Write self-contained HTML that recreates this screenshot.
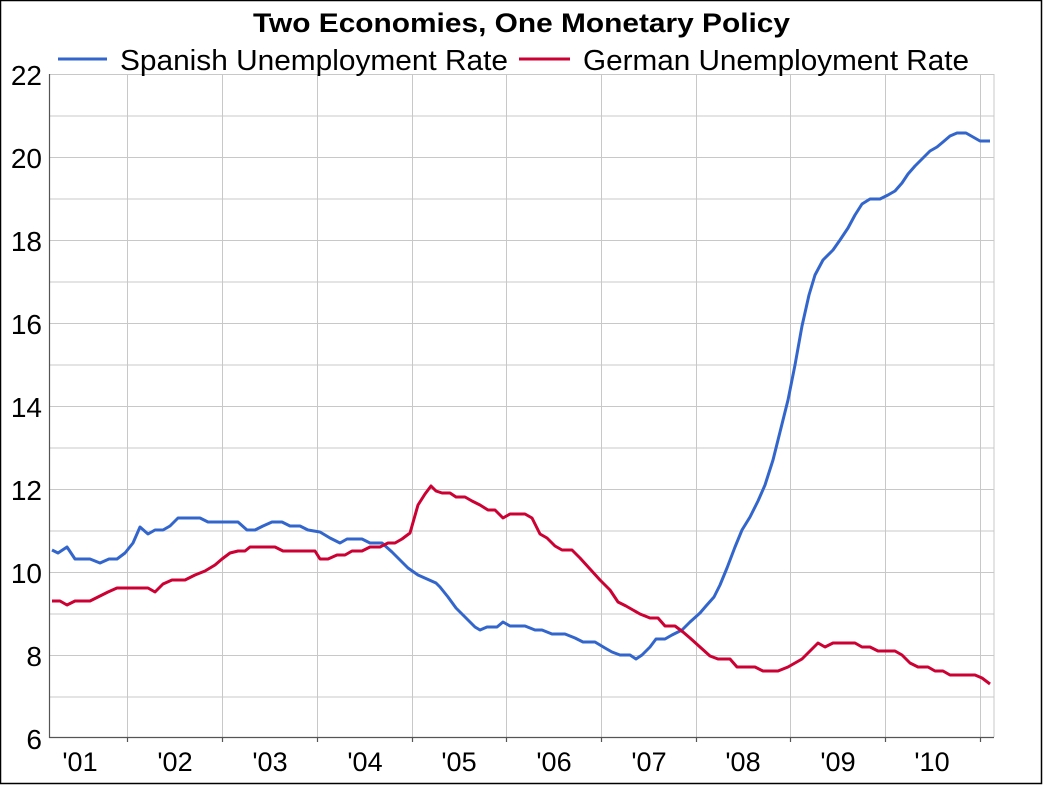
<!DOCTYPE html><html><head><style>body{margin:0;background:#fff}svg{display:block}</style></head><body>
<svg width="1043" height="785" xmlns="http://www.w3.org/2000/svg" font-family="Liberation Sans, Arial, sans-serif">
<rect x="0.5" y="0.5" width="1041" height="783" fill="#fff" stroke="#000" stroke-width="1.5"/>
<g stroke="#c8c8c8" stroke-width="1">
<line x1="49" x2="994" y1="74.5" y2="74.5"/><line x1="49" x2="994" y1="116" y2="116"/><line x1="49" x2="994" y1="157.5" y2="157.5"/><line x1="49" x2="994" y1="199" y2="199"/><line x1="49" x2="994" y1="240.5" y2="240.5"/><line x1="49" x2="994" y1="282" y2="282"/><line x1="49" x2="994" y1="323.5" y2="323.5"/><line x1="49" x2="994" y1="365" y2="365"/><line x1="49" x2="994" y1="406.5" y2="406.5"/><line x1="49" x2="994" y1="448" y2="448"/><line x1="49" x2="994" y1="489.5" y2="489.5"/><line x1="49" x2="994" y1="531" y2="531"/><line x1="49" x2="994" y1="572.5" y2="572.5"/><line x1="49" x2="994" y1="614" y2="614"/><line x1="49" x2="994" y1="655.5" y2="655.5"/><line x1="49" x2="994" y1="697" y2="697"/>
<line x1="127.5" x2="127.5" y1="74" y2="737"/><line x1="222.5" x2="222.5" y1="74" y2="737"/><line x1="317.5" x2="317.5" y1="74" y2="737"/><line x1="412.5" x2="412.5" y1="74" y2="737"/><line x1="506.5" x2="506.5" y1="74" y2="737"/><line x1="601.5" x2="601.5" y1="74" y2="737"/><line x1="696.5" x2="696.5" y1="74" y2="737"/><line x1="790.5" x2="790.5" y1="74" y2="737"/><line x1="885.5" x2="885.5" y1="74" y2="737"/><line x1="980.5" x2="980.5" y1="74" y2="737"/><line x1="994" x2="994" y1="74" y2="737"/>
</g>
<g stroke="#555" stroke-width="1.2">
<line x1="49.5" x2="49.5" y1="74" y2="738"/><line x1="49" x2="994" y1="737.5" y2="737.5"/>
<line x1="127.5" x2="127.5" y1="737" y2="742"/><line x1="222.5" x2="222.5" y1="737" y2="742"/><line x1="317.5" x2="317.5" y1="737" y2="742"/><line x1="412.5" x2="412.5" y1="737" y2="742"/><line x1="506.5" x2="506.5" y1="737" y2="742"/><line x1="601.5" x2="601.5" y1="737" y2="742"/><line x1="696.5" x2="696.5" y1="737" y2="742"/><line x1="790.5" x2="790.5" y1="737" y2="742"/><line x1="885.5" x2="885.5" y1="737" y2="742"/><line x1="980.5" x2="980.5" y1="737" y2="742"/>
</g>
<g font-size="28" text-anchor="end" fill="#000">
<text x="42" y="85">22</text><text x="42" y="168">20</text><text x="42" y="251">18</text><text x="42" y="334">16</text><text x="42" y="417">14</text><text x="42" y="500">12</text><text x="42" y="583">10</text><text x="42" y="666">8</text><text x="42" y="749">6</text>
</g>
<g font-size="27" text-anchor="middle" fill="#000">
<text x="80" y="771">'01</text><text x="175" y="771">'02</text><text x="270" y="771">'03</text><text x="365" y="771">'04</text><text x="459" y="771">'05</text><text x="554" y="771">'06</text><text x="649" y="771">'07</text><text x="743" y="771">'08</text><text x="838" y="771">'09</text><text x="932" y="771">'10</text>
</g>
<text x="253" y="32" font-size="27" font-weight="bold" textLength="537" lengthAdjust="spacingAndGlyphs">Two Economies, One Monetary Policy</text>
<line x1="58" x2="107" y1="59" y2="59" stroke="#3366cc" stroke-width="3"/>
<text x="120" y="70" font-size="29" textLength="388" lengthAdjust="spacingAndGlyphs">Spanish Unemployment Rate</text>
<line x1="519" x2="570" y1="59" y2="59" stroke="#cc0033" stroke-width="3"/>
<text x="583" y="70" font-size="29" textLength="386" lengthAdjust="spacingAndGlyphs">German Unemployment Rate</text>
<polyline fill="none" stroke="#3366cc" stroke-width="3" stroke-linejoin="round" points="52,550 58,553 67,547 75,559 90,559 100,563 109,559 117,559 125,553 133,543 140,527 148,534 155,530 163,530 170,526 178,518 200,518 208,522 238,522 247,530 255,530 263,526 272,522 282,522 290,526 300,526 308,530 320,532 330,538 340,543 347,539 362,539 370,543 382,543 392,552 400,560 408,568 418,575 436,583 440,587 448,597 456,608 466,618 475,627 480,630 487,627 497,627 503,622 510,626 525,626 535,630 542,630 552,634 565,634 575,638 583,642 595,642 605,648 612,652 620,655 630,655 636,659 642,655 650,647 656,639 665,639 672,635 682,630 690,622 700,613 706,606 714,597 720,585 727,568 735,547 742,530 750,517 758,501 765,485 773,460 780,432 788,400 795,365 802,326 809,295 815,275 823,260 833,250 840,240 848,228 855,215 862,204 870,199 880,199 888,195 895,191 902,183 908,174 915,166 922,159 930,151 937,147 943,142 950,136 957,133 966,133 973,137 980,141 990,141"/>
<polyline fill="none" stroke="#cc0033" stroke-width="3" stroke-linejoin="round" points="52,601 60,601 67,605 75,601 90,601 98,597 108,592 117,588 148,588 155,592 163,584 172,580 185,580 195,575 205,571 215,565 222,559 230,553 238,551 245,551 250,547 275,547 283,551 315,551 320,559 328,559 337,555 345,555 352,551 362,551 370,547 380,547 388,543 395,543 402,539 410,533 418,505 425,494 431,486 436,491 442,493 450,493 456,497 465,497 472,501 480,505 488,510 495,510 503,518 510,514 525,514 532,518 540,534 547,538 555,546 562,550 572,550 580,558 590,569 600,580 610,590 618,602 626,606 633,610 640,614 650,618 658,618 665,626 675,626 683,632 690,638 700,647 710,656 718,659 730,659 737,667 755,667 763,671 778,671 788,667 795,663 802,659 810,651 818,643 825,647 833,643 855,643 862,647 870,647 878,651 895,651 902,655 910,663 918,667 928,667 935,671 943,671 950,675 975,675 982,678 990,684"/>
</svg>
</body></html>
